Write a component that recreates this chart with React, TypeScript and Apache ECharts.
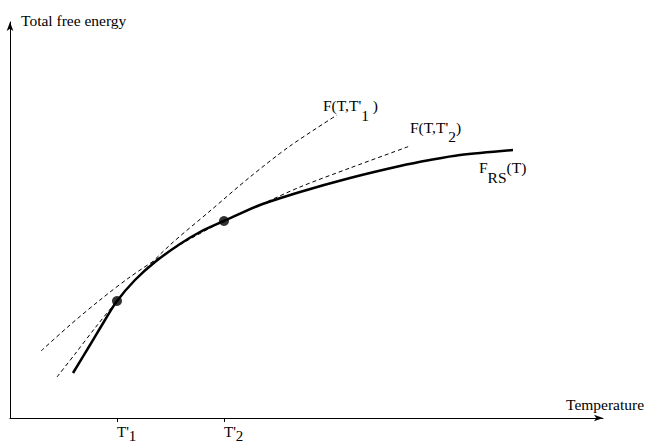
import React, { useEffect, useRef } from "react";
import * as echarts from "echarts";

// Temperature (arbitrary units) and free energy (arbitrary units)
const frsT = [63, 80, 95, 107, 125, 145, 170, 190, 214, 250, 290, 340, 390, 420, 450, 503];
const frsF = [45, 73, 98, 117, 138, 156, 174, 186, 197, 213, 226, 240, 252, 258, 263, 268];
const f1T = [47, 65, 85, 107, 130, 160, 200, 240, 280, 327];
const f1F = [41, 64, 90, 117, 143, 173, 207, 241, 272, 303];
const f2T = [31, 60, 90, 120, 150, 180, 214, 250, 290, 340, 400];
const f2F = [67, 93, 118, 141, 161, 179, 197, 213, 231, 250, 272];
const pointT = [107, 214];
const pointF = [117, 197];
const tickValues = [107, 214];
const tickLabels = ["T'{s|1}", "T'{s|2}"];

const FONT = "'Liberation Serif', 'DejaVu Serif', serif";

const zip = (a: number[], b: number[]) => a.map((v, i) => [v, b[i]]);

export default function App() {
  const ref = useRef<HTMLDivElement>(null);
  useEffect(() => {
    if (!ref.current) return;
    const chart = echarts.init(ref.current, null, { renderer: "svg" });
    const main = { fontSize: 15.5, fontFamily: FONT, fill: "#000", lineHeight: 15 };
    chart.setOption({
      animation: false,
      backgroundColor: "#fff",
      grid: { left: 10, right: 44, top: 22, bottom: 28, outerBoundsMode: "none", containLabel: false },
      xAxis: {
        type: "value",
        min: 0,
        max: 593,
        splitLine: { show: false },
        axisLine: { show: true, lineStyle: { color: "#000", width: 1 }, symbol: ["none", "arrow"], symbolSize: [5, 9] },
        axisTick: { show: true, customValues: tickValues, length: 4, lineStyle: { color: "#000" } },
        axisLabel: {
          show: true,
          customValues: tickValues,
          align: "left",
          margin: 7,
          fontSize: 15,
          lineHeight: 14,
          fontFamily: FONT,
          color: "#000",
          formatter: (v: number) => tickLabels[tickValues.indexOf(v)] ?? "",
          rich: { s: { fontSize: 15, lineHeight: 14, fontFamily: FONT, color: "#000", padding: [7, 0, 0, 0] } },
        },
      },
      yAxis: {
        type: "value",
        min: 0,
        max: 396,
        splitLine: { show: false },
        axisLine: { show: true, lineStyle: { color: "#000", width: 1 }, symbol: ["none", "arrow"], symbolSize: [5, 9] },
        axisTick: { show: false },
        axisLabel: { show: false },
      },
      series: [
        {
          type: "line",
          name: "F_RS",
          data: zip(frsT, frsF),
          smooth: 0.3,
          symbol: "none",
          lineStyle: { color: "#000", width: 2.5 },
          z: 3,
        },
        {
          type: "line",
          name: "F1",
          data: zip(f1T, f1F),
          smooth: 0.3,
          symbol: "none",
          lineStyle: { color: "#000", width: 1, type: [4, 3] },
          z: 2,
        },
        {
          type: "line",
          name: "F2",
          data: zip(f2T, f2F),
          smooth: 0.3,
          symbol: "none",
          lineStyle: { color: "#000", width: 1, type: [4, 3] },
          z: 2,
        },
        {
          type: "scatter",
          data: zip(pointT, pointF),
          symbol: "circle",
          symbolSize: 10,
          itemStyle: { color: "#000" },
          z: 4,
        },
      ],
      graphic: [
        { type: "text", x: 21, y: 20, style: { ...main, text: "Total free energy", align: "left", verticalAlign: "middle" } },
        { type: "text", x: 566, y: 404, style: { ...main, text: "Temperature", align: "left", verticalAlign: "middle" } },
        {
          type: "text",
          x: 323,
          y: 105,
          style: {
            ...main,
            text: "F(T,T'{s|1} )",
            align: "left",
            verticalAlign: "middle",
            rich: { s: { ...main, padding: [20, 0, 0, 0] } },
          },
        },
        {
          type: "text",
          x: 410,
          y: 127,
          style: {
            ...main,
            text: "F(T,T'{s|2})",
            align: "left",
            verticalAlign: "middle",
            rich: { s: { ...main, padding: [18, 0, 0, 0] } },
          },
        },
        {
          type: "text",
          x: 479,
          y: 167.5,
          style: {
            ...main,
            text: "F{s|RS}(T)",
            align: "left",
            verticalAlign: "middle",
            rich: { s: { ...main, padding: [19, 0, 0, 0] } },
          },
        },
      ],
    });
    return () => chart.dispose();
  }, []);
  return (
    <div
      ref={ref}
      style={{ position: "absolute", left: 0, top: 0, width: 647, height: 446, background: "#fff" }}
    />
  );
}
